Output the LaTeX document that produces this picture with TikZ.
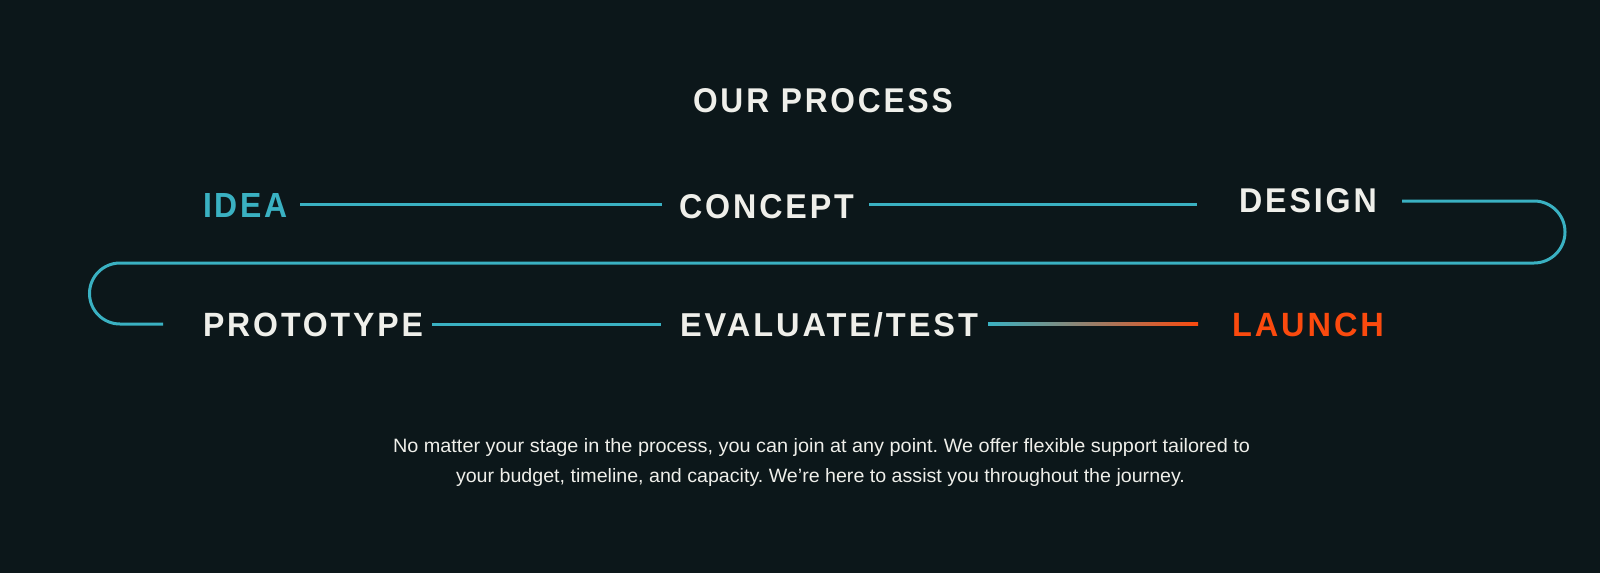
\documentclass[tikz,border=0pt]{standalone}
\usepackage{fontspec}
\usepackage{graphicx}
\setmainfont{Liberation Sans}
\newfontfamily\capsfont[LetterSpace=9]{Liberation Sans}
\definecolor{procbg}{HTML}{0C171A}
\definecolor{procteal}{HTML}{3AB1C2}
\definecolor{procorange}{HTML}{FB4A0E}
\definecolor{proctext}{HTML}{EFEFEA}
\newcommand{\capslabel}[3]{\resizebox{#1pt}{#2pt}{\capsfont\bfseries\fontsize{34}{40}\selectfont #3\kern-0.09em}}
\newcommand{\paraline}[2]{\resizebox{#1pt}{14pt}{\frenchspacing\fontsize{18}{22}\selectfont #2}}
\tikzset{
  lbl/.style={inner sep=0pt, outer sep=0pt, anchor=north west, text=proctext},
  paraline/.style={inner sep=0pt, outer sep=0pt, anchor=base, text=proctext},
  conn/.style={draw=procteal, line width=3pt},
}
\begin{document}
\frenchspacing
\begin{tikzpicture}[x=1pt,y=-1pt]
\fill[procbg] (0,0) rectangle (1600,573);
\useasboundingbox (0,0) rectangle (1600,573);

% labels
\node[lbl] (title) at (693,88) {\capslabel{257}{24}{OUR PROCESS}};
\node[lbl,text=procteal] (idea) at (203,193) {\capslabel{82}{24}{IDEA}};
\node[lbl] (concept) at (679,194) {\capslabel{172}{24}{CONCEPT}};
\node[lbl] (design) at (1239,188) {\capslabel{135}{24}{DESIGN}};
\node[lbl] (proto) at (203,313) {\capslabel{217}{23.5}{PROTOTYPE}};
\node[lbl] (eval) at (680,312) {\capslabel{295}{24}{EVALUATE/TEST}};
\node[lbl,text=procorange] (launch) at (1232,313) {\capslabel{149}{23.5}{LAUNCH}};

% helper coordinates
\coordinate (rowA) at (0,204);
\coordinate (rowD) at (0,201);
\coordinate (rowB) at (0,324);
\coordinate (gradtop) at (0,322);
\coordinate (gradbot) at (0,325);
\coordinate (rtop) at (1534,201);
\coordinate (ltop) at (120,263);

% connectors
\draw[conn] ([xshift=15pt]idea.east |- rowA) -- ([xshift=-17pt]concept.west |- rowA);
\draw[conn] ([xshift=18pt]concept.east |- rowA) -- ([xshift=-42pt]design.west |- rowA);
\draw[conn] ([xshift=28pt]design.east |- rowD) -- (rtop)
  arc[start angle=90, end angle=-90, radius=31pt] -- (ltop)
  arc[start angle=90, end angle=270, radius=30.5pt]
  -- ([xshift=-40pt]proto.west |- rowB);
\draw[conn] ([xshift=12pt]proto.east |- rowB) -- ([xshift=-19pt]eval.west |- rowB);
\shade[left color=procteal, right color=procorange]
  ([xshift=13pt]eval.east |- gradtop) rectangle ([xshift=-34pt]launch.west |- gradbot);

% paragraph
\node[paraline] (para1) at (821.5,452) {\paraline{857}{No matter your stage in the process, you can join at any point. We offer flexible support tailored to}};
\node[paraline] (para2) at (820.5,482) {\paraline{729}{your budget, timeline, and capacity. We’re here to assist you throughout the journey.}};
\end{tikzpicture}
\end{document}
